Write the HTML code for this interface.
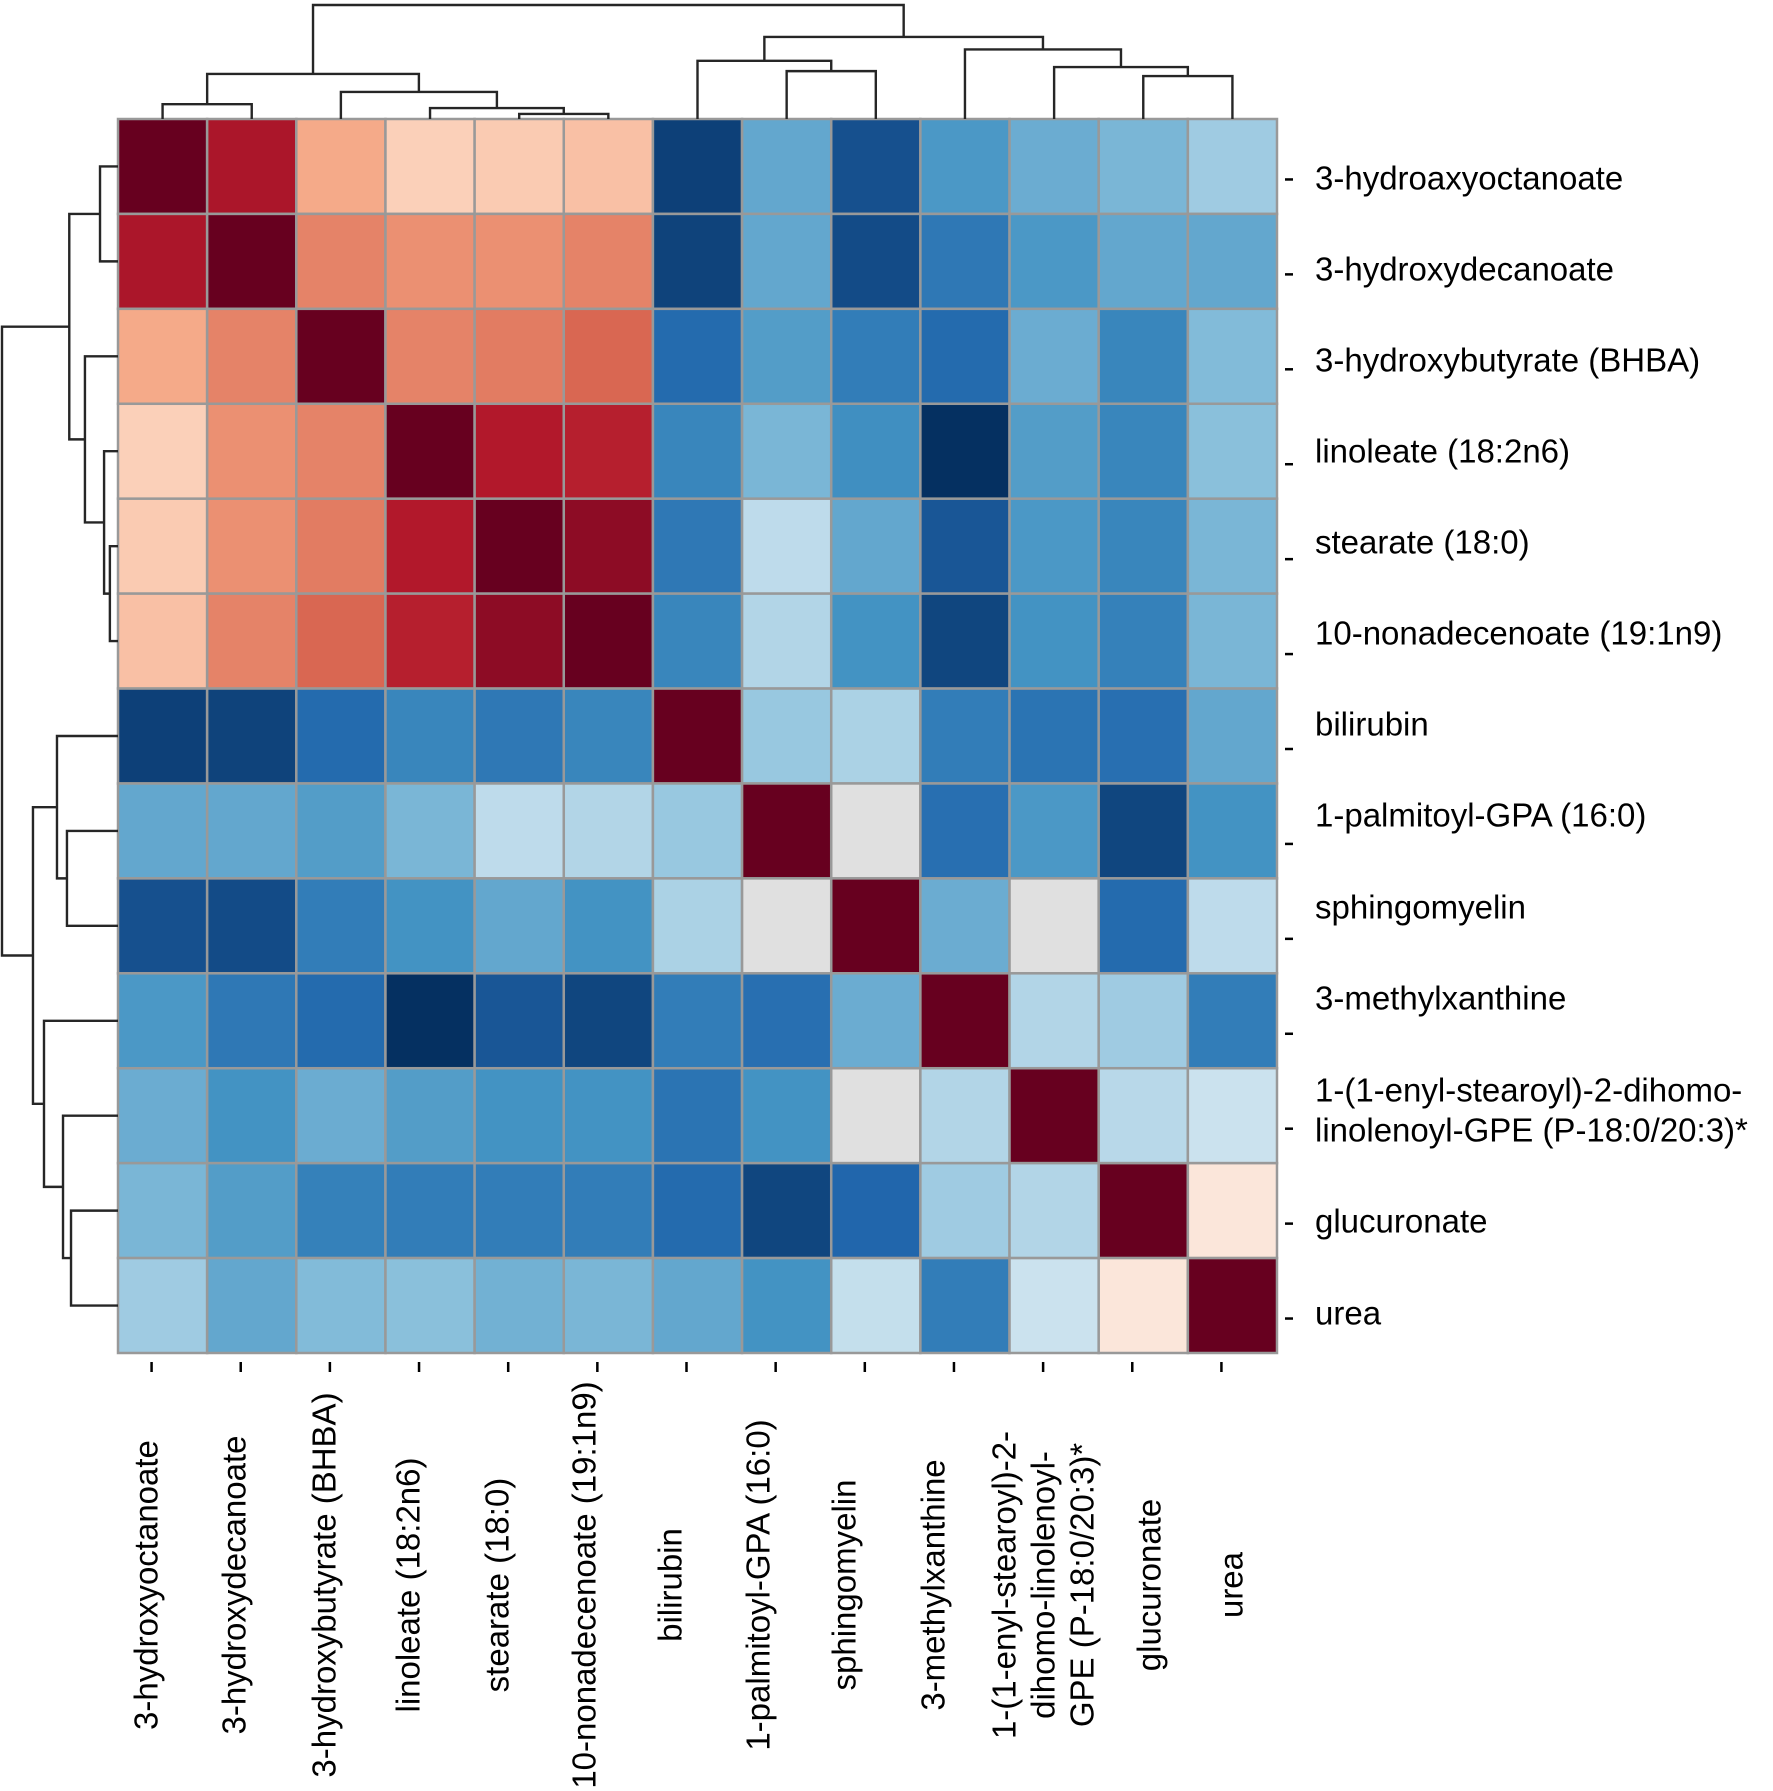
<!DOCTYPE html>
<html><head><meta charset="utf-8"><style>
html,body{margin:0;padding:0;background:#fff;}
svg{display:block;font-family:"Liberation Sans",Arial,sans-serif;}
</style></head><body>
<svg id="chart" width="1773" height="1791" viewBox="0 0 1773 1791" xmlns="http://www.w3.org/2000/svg">
<g id="cells"></g>
<g id="coldendro"></g>
<g id="rowdendro"></g>
<g id="ylabels"></g>
<g id="xlabels"></g>
</svg>
<script>
const rowLabels = [["3-hydroaxyoctanoate"],["3-hydroxydecanoate"],["3-hydroxybutyrate (BHBA)"],["linoleate (18:2n6)"],["stearate (18:0)"],["10-nonadecenoate (19:1n9)"],["bilirubin"],["1-palmitoyl-GPA (16:0)"],["sphingomyelin"],["3-methylxanthine"],["1-(1-enyl-stearoyl)-2-dihomo-","linolenoyl-GPE (P-18:0/20:3)*"],["glucuronate"],["urea"]];
const colLabels = [["3-hydroxyoctanoate"],["3-hydroxydecanoate"],["3-hydroxybutyrate (BHBA)"],["linoleate (18:2n6)"],["stearate (18:0)"],["10-nonadecenoate (19:1n9)"],["bilirubin"],["1-palmitoyl-GPA (16:0)"],["sphingomyelin"],["3-methylxanthine"],["1-(1-enyl-stearoyl)-2-","dihomo-linolenoyl-","GPE (P-18:0/20:3)*"],["glucuronate"],["urea"]];
// scaled correlation values (0 = strong negative, 1 = strong positive); null = missing
const row0  = [1.0,0.91,0.69,0.62,0.63,0.65,0.03,0.24,0.06,0.21,0.25,0.27,0.32];
const row1  = [0.91,1.0,0.75,0.73,0.73,0.75,0.035,0.24,0.05,0.14,0.21,0.24,0.24];
const row2  = [0.69,0.75,1.0,0.75,0.76,0.79,0.11,0.22,0.15,0.11,0.25,0.17,0.28];
const row3  = [0.62,0.73,0.75,1.0,0.9,0.89,0.17,0.27,0.19,0.0,0.22,0.17,0.29];
const row4  = [0.63,0.73,0.76,0.9,1.0,0.95,0.14,0.37,0.24,0.07,0.21,0.17,0.27];
const row5  = [0.65,0.75,0.79,0.89,0.95,1.0,0.17,0.35,0.2,0.04,0.2,0.16,0.27];
const row6  = [0.03,0.035,0.11,0.17,0.14,0.17,1.0,0.31,0.34,0.15,0.13,0.12,0.24];
const row7  = [0.24,0.24,0.22,0.27,0.37,0.35,0.31,1.0,null,0.12,0.21,0.04,0.2];
const row8  = [0.06,0.05,0.15,0.2,0.24,0.2,0.34,null,1.0,0.25,null,0.11,0.37];
const row9  = [0.21,0.14,0.11,0.0,0.07,0.04,0.15,0.12,0.25,1.0,0.35,0.32,0.15];
const row10 = [0.25,0.2,0.25,0.22,0.2,0.2,0.13,0.2,null,0.35,1.0,0.36,0.39];
const row11 = [0.27,0.22,0.16,0.15,0.15,0.15,0.11,0.04,0.1,0.32,0.35,1.0,0.56];
const row12 = [0.32,0.24,0.28,0.29,0.26,0.27,0.24,0.2,0.38,0.15,0.39,0.56,1.0];
const matrix = [row0,row1,row2,row3,row4,row5,row6,row7,row8,row9,row10,row11,row12];
// linkage (scipy style: clusters numbered 13+)
const colLinkLeft   = [4,3,0,2,15,7,11,10,6,9,21,17];
const colLinkRight  = [5,13,1,14,16,8,12,19,18,20,22,23];
const colLinkHeight = [0.044,0.096,0.13,0.237,0.395,0.42,0.377,0.456,0.51,0.61,0.72,1.0];
const rowLinkLeft   = [4,3,0,2,15,7,11,10,6,9,21,17];
const rowLinkRight  = [5,13,1,14,16,8,12,19,18,20,22,23];
const rowLinkHeight = [0.07,0.12,0.155,0.285,0.42,0.44,0.405,0.474,0.526,0.638,0.733,1.0];

const NS="http://www.w3.org/2000/svg";
const X0=118,X1=1277,Y0=119,Y1=1353,N=13;
const cw=(X1-X0)/N, ch=(Y1-Y0)/N;
const xPos=i=>X0+cw*(i+0.5), yPos=i=>Y0+ch*(i+0.5);
// label layout (matplotlib-style spacing)
const rowLabelCenter=[178,269,360,451,542,633,724,815,907,998,1110,1221,1313];
const colLabelCenter=[146,234,324,408,497,584,670,758,844,933,1043,1149,1231];
const stops=["#053061","#2166ac","#4393c3","#92c5de","#d1e5f0","#f7f7f7","#fddbc7","#f4a582","#d6604d","#b2182b","#67001f"];
function hex(h){return [1,3,5].map(k=>parseInt(h.substr(k,2),16));}
function color(v){
  if(v===null) return "#e0e0e0";
  const t=Math.max(0,Math.min(1,v))*10, i=Math.min(9,Math.floor(t)), f=t-i;
  const a=hex(stops[i]), b=hex(stops[i+1]);
  return "rgb("+a.map((c,k)=>Math.round(c+(b[k]-c)*f)).join(",")+")";
}
function mk(tag,attrs,parent){const e=document.createElementNS(NS,tag);for(const k in attrs)e.setAttribute(k,attrs[k]);parent.appendChild(e);return e;}
const gc=document.getElementById("cells");
for(let r=0;r<N;r++)for(let c=0;c<N;c++){
  const e=mk("rect",{x:X0+c*cw,y:Y0+r*ch,width:cw,height:ch,fill:color(matrix[r][c]),stroke:"#999",'stroke-width':2.5},gc);
  
  
}
function drawDendro(left,right,heights,leafPos,g,horizontalTop){
  const pos={},hgt={};
  for(let i=0;i<N;i++){pos[i]=leafPos(i);hgt[i]=0;}
  left.forEach((l,k)=>{
    const r=right[k],h=heights[k],id=N+k;
    pos[id]=(pos[l]+pos[r])/2;hgt[id]=h;
    let d;
    if(horizontalTop){
      const f=v=>Y0-v*114;
      d=`M${pos[l]},${f(hgt[l])}V${f(h)}H${pos[r]}V${f(hgt[r])}`;
    }else{
      const f=v=>X0-v*116;
      d=`M${f(hgt[l])},${pos[l]}H${f(h)}V${pos[r]}H${f(hgt[r])}`;
    }
    const p=mk("path",{d:d,fill:"none",stroke:"#262626",'stroke-width':2.4},g);
    
    
  });
}
drawDendro(colLinkLeft,colLinkRight,colLinkHeight,xPos,document.getElementById("coldendro"),true);
drawDendro(rowLinkLeft,rowLinkRight,rowLinkHeight,yPos,document.getElementById("rowdendro"),false);
const gy=document.getElementById("ylabels");
rowLabels.forEach((lines,i)=>{
  const yc=yPos(i)+13;
  const t=mk("line",{x1:1285,x2:1293,y1:yc,y2:yc,stroke:"#000",'stroke-width':2.5},gy);
  
  
  lines.forEach((s,j)=>{
    const ly=rowLabelCenter[i]+(j-(lines.length-1)/2)*40;
    const e=mk("text",{x:1315,y:ly,'font-size':33,'dominant-baseline':'central',fill:"#000"},gy);
    e.textContent=s;
    
    
  });
});
const gx=document.getElementById("xlabels");
colLabels.forEach((lines,i)=>{
  const xc=xPos(i)-11;
  const t=mk("line",{x1:xc,x2:xc,y1:1362,y2:1372,stroke:"#000",'stroke-width':2.5},gx);
  
  
  lines.forEach((s,j)=>{
    const lx=colLabelCenter[i]+(j-(lines.length-1)/2)*39;
    const e=mk("text",{x:lx,y:1585,'font-size':33,'text-anchor':'middle','dominant-baseline':'central',transform:`rotate(-90 ${lx} 1585)`,fill:"#000"},gx);
    e.textContent=s;
    
    
  });
});
</script>
</body></html>
